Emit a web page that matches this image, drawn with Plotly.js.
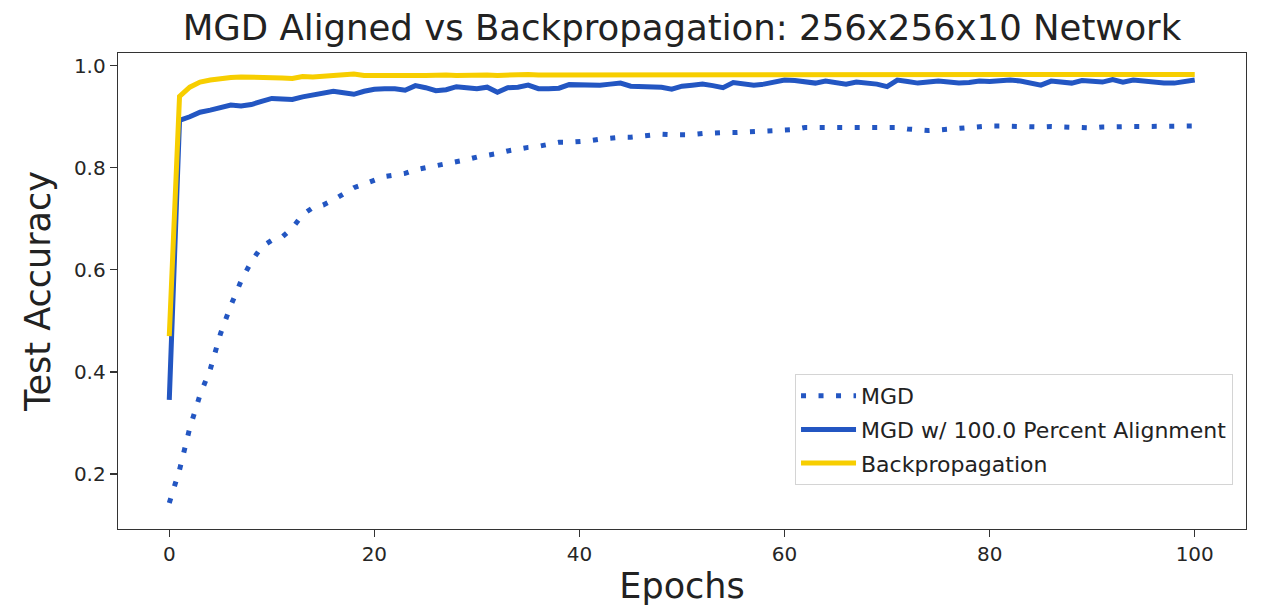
<!DOCTYPE html>
<html>
<head>
<meta charset="utf-8">
<script src="https://cdn.plot.ly/plotly-3.0.1.min.js"></script>
<style>html,body{margin:0;padding:0;background:#fff;}#chart{width:1261px;height:606px;}</style>
</head>
<body>
<div id="chart"></div>
<script>
const epochs = Array.from({length: 101}, (_, i) => i);

const mgd = [
  0.143, 0.208, 0.290, 0.355, 0.405, 0.475, 0.530, 0.578, 0.616, 0.645,
  0.658, 0.664, 0.682, 0.708, 0.722, 0.727, 0.737, 0.750, 0.761, 0.768,
  0.776, 0.783, 0.786, 0.789, 0.796, 0.800, 0.802, 0.806, 0.810, 0.816,
  0.821, 0.824, 0.828, 0.833, 0.837, 0.840, 0.842, 0.846, 0.850, 0.850,
  0.851, 0.853, 0.856, 0.859, 0.860, 0.860, 0.862, 0.864, 0.866, 0.865,
  0.864, 0.865, 0.867, 0.869, 0.869, 0.869, 0.870, 0.870, 0.871, 0.871,
  0.872, 0.875, 0.879, 0.879, 0.879, 0.878, 0.877, 0.877, 0.878, 0.879,
  0.879, 0.879, 0.876, 0.874, 0.873, 0.874, 0.876, 0.878, 0.880, 0.881,
  0.882, 0.882, 0.881, 0.881, 0.879, 0.880, 0.881, 0.880, 0.879, 0.877,
  0.878, 0.880, 0.881, 0.881, 0.881, 0.881, 0.881, 0.881, 0.882, 0.882,
  0.882
];

const mgdAligned = [
  0.345, 0.893, 0.900, 0.909, 0.913, 0.918, 0.923, 0.921, 0.924, 0.930,
  0.936, 0.935, 0.934, 0.939, 0.942, 0.946, 0.950, 0.947, 0.944, 0.950,
  0.954, 0.955, 0.955, 0.952, 0.961, 0.957, 0.951, 0.953, 0.959, 0.957,
  0.955, 0.958, 0.948, 0.957, 0.958, 0.962, 0.955, 0.955, 0.956, 0.963,
  0.962, 0.961, 0.962, 0.964, 0.966, 0.960, 0.960, 0.959, 0.958, 0.954,
  0.960, 0.962, 0.964, 0.961, 0.957, 0.967, 0.965, 0.962, 0.964, 0.968,
  0.972, 0.971, 0.969, 0.966, 0.970, 0.968, 0.964, 0.968, 0.966, 0.964,
  0.959, 0.972, 0.969, 0.966, 0.968, 0.970, 0.968, 0.966, 0.967, 0.970,
  0.969, 0.971, 0.972, 0.970, 0.966, 0.962, 0.970, 0.967, 0.966, 0.971,
  0.969, 0.968, 0.973, 0.968, 0.972, 0.970, 0.967, 0.966, 0.966, 0.969,
  0.972
];

const backprop = [
  0.470, 0.940, 0.958, 0.968, 0.972, 0.975, 0.977, 0.978, 0.978, 0.977,
  0.977, 0.976, 0.975, 0.979, 0.978, 0.979, 0.980, 0.983, 0.984, 0.981,
  0.980, 0.981, 0.981, 0.982, 0.981, 0.981, 0.982, 0.982, 0.981, 0.982,
  0.982, 0.982, 0.981, 0.982, 0.982, 0.983, 0.982, 0.982, 0.983, 0.982,
  0.982, 0.982, 0.983, 0.982, 0.982, 0.983, 0.982, 0.982, 0.982, 0.983,
  0.982, 0.982, 0.983, 0.982, 0.983, 0.982, 0.982, 0.983, 0.983, 0.982,
  0.983, 0.983, 0.982, 0.983, 0.982, 0.983, 0.983, 0.982, 0.983, 0.983,
  0.982, 0.983, 0.983, 0.983, 0.982, 0.983, 0.983, 0.983, 0.982, 0.983,
  0.983, 0.983, 0.983, 0.982, 0.983, 0.983, 0.983, 0.983, 0.983, 0.982,
  0.983, 0.983, 0.983, 0.983, 0.983, 0.983, 0.982, 0.983, 0.983, 0.983,
  0.983
];

const seriesNames = ['MGD', 'MGD w/ 100.0 Percent Alignment', 'Backpropagation'];
const titleText = 'MGD Aligned vs Backpropagation: 256x256x10 Network';
const xTicks = [0, 20, 40, 60, 80, 100];
const yTicks = [0.2, 0.4, 0.6, 0.8, 1.0];

const BLUE = '#2356C2';
const YELLOW = '#F7CE00';
const FONT = 'DejaVu Sans, Liberation Sans, sans-serif';

const traces = [
  {x: epochs, y: mgd, name: seriesNames[0], mode: 'lines', legendgroup: 'a',
   line: {color: BLUE, width: 5, dash: '5px,12.5px'}},
  {x: epochs, y: mgdAligned, name: seriesNames[1], mode: 'lines', legendgroup: 'b',
   line: {color: BLUE, width: 5}},
  {x: epochs, y: backprop, name: seriesNames[2], mode: 'lines', legendgroup: 'c',
   line: {color: YELLOW, width: 5}}
];

const layout = {
  width: 1261, height: 606,
  paper_bgcolor: '#ffffff', plot_bgcolor: '#ffffff',
  margin: {l: 118, r: 15, t: 53, b: 77, pad: 0},
  font: {family: FONT, color: '#222222'},
  title: {text: titleText, x: 0.5, xref: 'paper', y: 1 - 28/606, yref: 'container',
          yanchor: 'middle', xanchor: 'center', font: {family: FONT, size: 35.5, color: '#222222'}},
  showlegend: true,
  legend: {x: 0.9885, xanchor: 'right', y: 0.0924, yanchor: 'bottom',
           bgcolor: '#ffffff', bordercolor: '#d4d4d4', borderwidth: 1,
           tracegroupgap: 2,
           font: {family: FONT, size: 22, color: '#222222'}, itemwidth: 55},
  xaxis: {range: [-5, 105], tickvals: xTicks, ticktext: xTicks.map(String),
          showgrid: false, zeroline: false, showline: true, mirror: true,
          linecolor: '#333333', linewidth: 1.3, ticks: 'outside', ticklen: 7,
          tickcolor: '#333333', tickwidth: 1.3,
          tickfont: {family: FONT, size: 20, color: '#262626'},
          title: {text: 'Epochs', standoff: 10, font: {family: FONT, size: 35, color: '#222222'}}},
  yaxis: {range: [0.092, 1.025], tickvals: yTicks, ticktext: yTicks.map(v => v.toFixed(1)),
          showgrid: false, zeroline: false, showline: true, mirror: true,
          linecolor: '#333333', linewidth: 1.3, ticks: 'outside', ticklen: 7,
          tickcolor: '#333333', tickwidth: 1.3,
          tickfont: {family: FONT, size: 20, color: '#262626'},
          title: {text: 'Test Accuracy', standoff: 12, font: {family: FONT, size: 35, color: '#222222'}}}
};

Plotly.newPlot('chart', traces, layout, {displayModeBar: false, staticPlot: true});
</script>
</body>
</html>
